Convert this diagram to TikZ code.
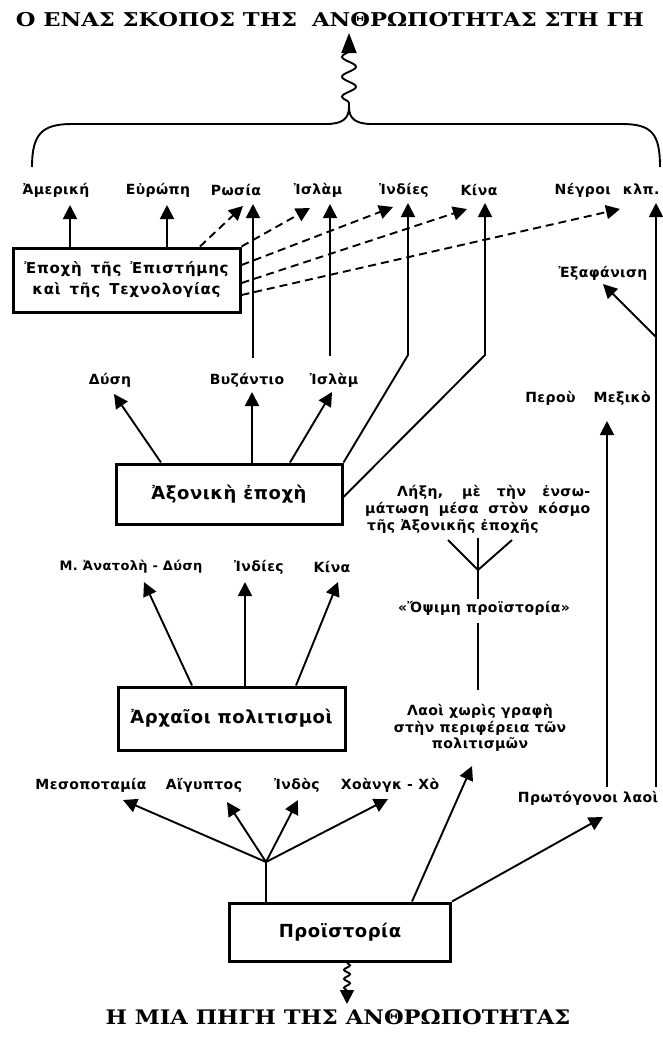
\documentclass[tikz,border=0pt]{standalone}
\usepackage{fontspec}
\setmainfont{DejaVu Serif}
\newfontfamily\gsans[LetterSpace=3]{DejaVu Sans}
\newfontfamily\gwide[LetterSpace=5]{DejaVu Sans}
\newfontfamily\gbox[LetterSpace=3]{DejaVu Sans}
\usetikzlibrary{arrows.meta,decorations.pathmorphing}
\begin{document}
\begin{tikzpicture}[x=1pt,y=-1pt,
  lbl/.style={font=\gsans\bfseries\fontsize{14}{16}\selectfont, inner sep=0pt},
  boxst/.style={draw, line width=3pt, inner sep=0pt, align=center},
  titlest/.style={font=\bfseries\fontsize{19}{22}\selectfont, inner sep=0pt},
  ln/.style={line width=1.9pt},
  arr/.style={line width=1.9pt, -{Triangle[width=14pt,length=14pt]}},
  darr/.style={arr, dash pattern=on 8pt off 5pt}
]
\useasboundingbox (0,0) rectangle (663,1039);

% titles
\node[titlest] (top) at (330,20) {\scalebox{1.19}[1]{Ο ΕΝΑΣ ΣΚΟΠΟΣ ΤΗΣ\hspace{6pt} ΑΝΘΡΩΠΟΤΗΤΑΣ ΣΤΗ ΓΗ}};
\node[titlest, font=\bfseries\fontsize{20}{22}\selectfont] (bot) at (338,1017) {\scalebox{1.13}[1]{Η ΜΙΑ ΠΗΓΗ ΤΗΣ ΑΝΘΡΩΠΟΤΗΤΑΣ}};

% brace and wavy arrow to the top title
\coordinate (bj) at (349,107);
\coordinate (tTop) at (349,33);
\draw[ln] (32,167) .. controls (32,134) and (42,124) .. (72,124) -- (326,124)
  .. controls (342,124) and (349,119) .. (bj)
  .. controls (349,119) and (356,124) .. (372,124) -- (622,124)
  .. controls (652,124) and (660,134) .. (660,167);
\draw[line width=1.9pt, decorate, decoration={snake, amplitude=7pt, segment length=20pt, pre length=4pt, post length=16pt},
  -{Triangle[width=15pt,length=20pt]}] (bj) -- (tTop);

% boxes
\node[boxst, minimum width=227pt, minimum height=64pt,
  font=\gwide\bfseries\fontsize{15}{21}\selectfont] (E) at (126.5,280)
  {Ἐποχὴ\hspace{3pt} τῆς\hspace{3pt} Ἐπιστήμης\\καὶ\hspace{3pt} τῆς\hspace{3pt} Τεχνολογίας};
\node[boxst, minimum width=226pt, minimum height=60pt,
  font=\gbox\bfseries\fontsize{18}{20}\selectfont] (A) at (229,494) {Ἀξονικὴ ἐποχὴ};
\node[boxst, minimum width=227pt, minimum height=63pt,
  font=\gbox\bfseries\fontsize{18}{20}\selectfont] (R) at (231.5,718.5) {Ἀρχαῖοι πολιτισμοὶ};
\node[boxst, minimum width=221pt, minimum height=58pt,
  font=\gbox\bfseries\fontsize{18}{20}\selectfont] (P) at (340,932) {Προϊστορία};

% top row labels
\node[lbl] (amer) at (56,190) {Ἀμερική};
\node[lbl] (eur) at (158,190) {Εὐρώπη};
\node[lbl] (rus) at (236,190) {Ρωσία};
\node[lbl] (isl1) at (318,190) {Ἰσλὰμ};
\node[lbl] (ind1) at (404,190) {Ἰνδίες};
\node[lbl] (kin1) at (479,190) {Κίνα};
\node[lbl] (neg) at (607,190) {Νέγροι\hspace{12pt}κλπ.};
\node[lbl] (exa) at (603,273) {Ἐξαφάνιση};
\node[lbl] (mex) at (588,398) {Περοὺ\hspace{18pt}Μεξικὸ};

% middle labels
\node[lbl] (dys) at (110,380) {Δύση};
\node[lbl] (vyz) at (247,380) {Βυζάντιο};
\node[lbl] (isl2) at (334,380) {Ἰσλὰμ};
\node[lbl, anchor=west] (lix1) at (397,492) {\makebox[193pt][s]{Λήξη, μὲ τὴν ἐνσω-}};
\node[lbl, anchor=west] (lix2) at (365,509) {\makebox[225pt][s]{μάτωση μέσα στὸν κόσμο}};
\node[lbl, anchor=west] (lix3) at (367,526) {τῆς Ἀξονικῆς ἐποχῆς};
\node[lbl] (ops) at (484,608) {«Ὄψιμη προϊστορία»};
\node[lbl, align=center, font=\gsans\bfseries\fontsize{14}{16.5}\selectfont] (laoi) at (480,728)
  {Λαοὶ χωρὶς γραφὴ\\στὴν περιφέρεια τῶν\\πολιτισμῶν};

% ancient row labels
\node[lbl, font=\gsans\bfseries\fontsize{13}{15}\selectfont] (man) at (131,567) {Μ. Ἀνατολὴ - Δύση};
\node[lbl] (ind2) at (259,567) {Ἰνδίες};
\node[lbl] (kin2) at (332,567) {Κίνα};

% prehistory row labels
\node[lbl] (mes) at (91,785) {Μεσοποταμία};
\node[lbl] (aig) at (204,785) {Αἴγυπτος};
\node[lbl] (indos) at (297,785) {Ἰνδὸς};
\node[lbl] (xoa) at (390,785) {Χοὰνγκ - Χὸ};
\node[lbl] (prot) at (588,798) {Πρωτόγονοι λαοὶ};

% tip and bend coordinates
\coordinate (tAmer) at (70,205);
\coordinate (tEur) at (167,205);
\coordinate (tRusD) at (243,206);
\coordinate (tIslD) at (310,208);
\coordinate (tIndD) at (393,207);
\coordinate (tKinD) at (467,209);
\coordinate (tNegD) at (620,209);
\coordinate (tRus) at (253,204);
\coordinate (bRus) at (253,358);
\coordinate (tIsl) at (330,204);
\coordinate (bIsl) at (330,356);
\coordinate (tInd) at (408,203);
\coordinate (kInd) at (408,355);
\coordinate (tKin) at (485,203);
\coordinate (kKin) at (485,355);
\coordinate (tKlp) at (656,203);
\coordinate (kExa) at (656,337);
\coordinate (tExa) at (603,284);
\coordinate (tMex) at (607,421);
\coordinate (tDys) at (114,394);
\coordinate (tVyz) at (252,392);
\coordinate (tIsl2) at (332,392);
\coordinate (tMan) at (144,582);
\coordinate (tInd2) at (245,582);
\coordinate (tKin2) at (338,582);
\coordinate (pj) at (266,862);
\coordinate (tMes) at (123,800);
\coordinate (tAig) at (227,802);
\coordinate (tIndos) at (298,800);
\coordinate (tXoa) at (388,799);
\coordinate (tLaoi) at (472,766);
\coordinate (tProt) at (603,817);
\coordinate (tri) at (478,570);
\coordinate (prL) at (448,540);
\coordinate (prM) at (478,538);
\coordinate (prR) at (512,540);
\coordinate (tBot) at (347,1004);

% from the box of science and technology
\draw[arr] (E.north -| tAmer) -- (tAmer);
\draw[arr] (E.north -| tEur) -- (tEur);
\draw[darr] ([xshift=73.5pt]E.north) -- (tRusD);
\draw[darr] (E.north east) -- (tIslD);
\draw[darr] ([yshift=15pt]E.east) -- (tIndD);
\draw[darr] ([yshift=-3pt]E.east) -- (tKinD);
\draw[darr] ([yshift=-15pt]E.east) -- (tNegD);

% long lines up to the top row
\draw[arr] (bRus) -- (tRus);
\draw[arr] (bIsl) -- (tIsl);
\draw[arr] (A.north east) -- (kInd) -- (tInd);
\draw[arr] ([yshift=-3pt]A.east) -- (kKin) -- (tKin);

% from the axial age
\draw[arr] ([xshift=-68pt]A.north) -- (tDys);
\draw[arr] ([xshift=23pt]A.north) -- (tVyz);
\draw[arr] ([xshift=61pt]A.north) -- (tIsl2);

% from the ancient civilisations
\draw[arr] ([xshift=-39.5pt]R.north) -- (tMan);
\draw[arr] ([xshift=13.5pt]R.north) -- (tInd2);
\draw[arr] ([xshift=64.5pt]R.north) -- (tKin2);

% from prehistory
\draw[ln] ([xshift=-74pt]P.north) -- (pj);
\draw[arr] (pj) -- (tMes);
\draw[arr] (pj) -- (tAig);
\draw[arr] (pj) -- (tIndos);
\draw[arr] (pj) -- (tXoa);
\draw[arr] ([xshift=72pt]P.north) -- (tLaoi);
\draw[arr] (P.north east) -- (tProt);

% right side
\draw[arr, shorten <=4pt] (prot.north -| tKlp) -- (tKlp);
\draw[arr, shorten <=4pt] (prot.north -| tMex) -- (tMex);
\draw[arr] (kExa) -- (tExa);

% late prehistory
\draw[ln] (prL) -- (tri) -- (prR);
\draw[ln] (prM) -- (tri);
\draw[ln, shorten >=2pt] (tri) -- (ops.north -| tri);
\draw[ln, shorten <=8pt, shorten >=14pt] (ops.south -| tri) -- (laoi.north -| tri);

% wavy arrow down to the bottom title
\draw[line width=1.9pt, decorate, decoration={snake, amplitude=3pt, segment length=9pt, post length=12pt},
  -{Triangle[width=14pt,length=14pt]}] ([xshift=7pt]P.south) -- (tBot);
\end{tikzpicture}
\end{document}
